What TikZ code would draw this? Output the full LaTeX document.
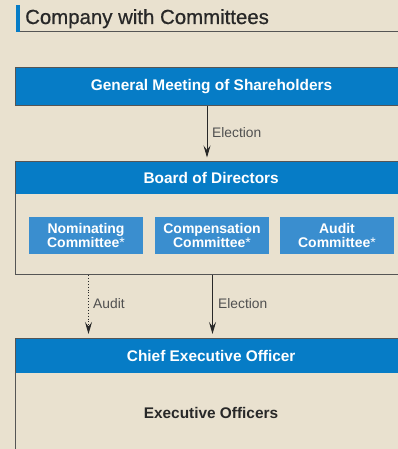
\documentclass[tikz,border=0pt]{standalone}
\usepackage{fontspec}
\setmainfont{Liberation Sans}
\newfontfamily\titlefont[FakeBold=0.6]{Liberation Sans}
\usetikzlibrary{arrows.meta,calc}
\definecolor{bg}{RGB}{233,225,207}
\definecolor{hblue}{RGB}{6,124,198}
\definecolor{cblue}{RGB}{58,142,207}
\definecolor{edge}{RGB}{85,85,85}
\definecolor{txt}{RGB}{40,40,40}
\definecolor{lab}{RGB}{80,80,80}
\newcommand{\myast}{\raisebox{0.5pt}{\fontsize{14}{14}\selectfont\mdseries *}}
\begin{document}
\begin{tikzpicture}[x=1pt,y=-1pt,
  frame/.style={draw=edge, line width=1pt, inner sep=0pt, anchor=north west, minimum width=392pt},
  headfill/.style={fill=hblue, text=white, font=\fontsize{15.4}{18}\selectfont\bfseries, inner sep=0pt, anchor=north west, minimum width=392pt},
  committee/.style={fill=cblue, text=white, font=\fontsize{14}{14.6}\selectfont\bfseries, align=center, minimum width=114pt, minimum height=37pt, inner sep=0pt},
  lbl/.style={text=lab, font=\fontsize{13.8}{16}\selectfont, anchor=west, inner sep=0pt},
  arr/.style={-{Stealth[length=12pt,width=7pt,inset=4.5pt]}, line width=0.9pt, draw=txt},
]
\useasboundingbox (0,0) rectangle (398,449);
\clip (0,0) rectangle (398,449);
\fill[bg] (0,0) rectangle (398,449);

% title
\fill[hblue] (16,5) rectangle (20,32);
\draw[edge, line width=1pt] (20,32) -- (400,32);
\node[anchor=base west, inner sep=0pt, text=txt, font=\titlefont\fontsize{20.4}{24}\selectfont] (title) at (25,24) {Company with Committees};

% general meeting
\node[headfill, draw=edge, line width=1pt, minimum height=38pt] (gms) at (15,67) {General Meeting of Shareholders};

% board
\node[headfill, minimum height=33pt] (boardhead) at (15,161) {Board of Directors};
\node[frame, minimum height=113pt] (board) at (15,161) {};
\node[committee] (nom) at (86,235.5) {Nominating\\Committee\myast};
\node[committee] (comp) at (212,235.5) {Compensation\\Committee\myast};
\node[committee] (aud) at (337,235.5) {Audit\\Committee\myast};

% CEO
\node[headfill, minimum height=35pt] (ceohead) at (15,338) {Chief Executive Officer};
\node[frame, minimum height=130pt] (ceo) at (15,338) {};
\node[text=txt, font=\fontsize{15.4}{18}\selectfont\bfseries, inner sep=0pt] (exec) at (211,413) {Executive Officers};

% connectors
\draw[arr] ([xshift=-4.5pt]gms.south) -- ([xshift=-4.5pt,yshift=3.5pt]board.north);
\node[lbl] (el1) at (212,133) {Election};
\draw[arr, dotted] ([xshift=-123pt]board.south) -- ([xshift=-123pt,yshift=4pt]ceo.north);
\node[lbl] (audl) at (93,304) {Audit};
\draw[arr] ([xshift=1pt]board.south) -- ([xshift=1pt,yshift=4pt]ceo.north);
\node[lbl] (el2) at (218,304) {Election};
\end{tikzpicture}
\end{document}
